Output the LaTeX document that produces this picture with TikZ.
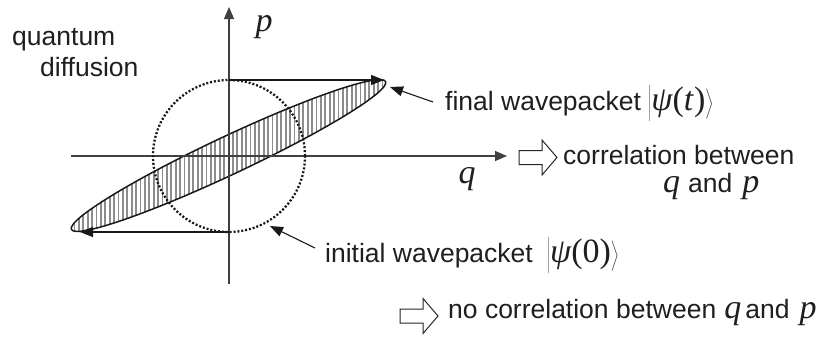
\documentclass[tikz,border=0pt]{standalone}
\usepackage[no-math]{fontspec}
\setmainfont{Liberation Sans}
\newfontfamily\tnr{Liberation Serif}
\usetikzlibrary{arrows.meta}
\newcommand\symfont{\fontsize{34}{40}\selectfont\tnr}
\newcommand\qv{{\symfont\itshape q}}
\newcommand\pv{{\symfont\itshape p}}
\newcommand\myket[1]{$\left|\mbox{\symfont #1}\right\rangle$}
\tikzset{
  axisline/.style={line width=1.1pt, draw=black!75, -{Triangle[length=12pt,width=10pt]}},
  pointer/.style={line width=1.1pt, draw=black!90, -{Triangle[length=13pt,width=10pt]}},
  lbl/.style={anchor=base west, inner sep=0pt, font=\fontsize{26.5}{30}\selectfont, text=black!88},
  sym/.style={anchor=base, inner sep=0pt, font=\symfont\itshape, text=black!88},
  blockarrow/.style={draw=black!85, line width=1pt, fill=white, line join=miter},
  hatch/.style={draw=black!45, line width=1.8pt},
  packetline/.style={draw=black!90, line width=1.5pt},
  dotcircle/.style={draw=black!90, line width=2.3pt, dash pattern=on 2pt off 1.9pt},
}
\begin{document}
\begin{tikzpicture}[x=1pt,y=-1pt]
\useasboundingbox[fill=white] (0,0) rectangle (838,338);
% coordinates
\coordinate (O) at (229,156);
\coordinate (ptop) at (229,7);
\coordinate (pbot) at (229,284);
\coordinate (qleft) at (71,156);
\coordinate (qright) at (507,156);
\coordinate (ctop) at (229,80);
\coordinate (cbot) at (229,232);
\coordinate (etr) at (384,80);
\coordinate (ebl) at (80,232);
% hatched ellipse
\begin{scope}
  \clip[shift={(228.5,155.5)},rotate=25.2] (0,0) ellipse [x radius=173.6pt,y radius=19pt];
  \foreach \x in {70,74.4,...,392} \draw[hatch] (\x,60) -- (\x,250);
\end{scope}
\draw[packetline,shift={(228.5,155.5)},rotate=25.2] (0,0) ellipse [x radius=173.6pt,y radius=19pt];
% axes
\draw[axisline] (pbot) -- (ptop);
\draw[axisline] (qleft) -- (qright);
% dotted circle
\draw[dotcircle] (O) circle [radius=76pt];
% spreading arrows
\draw[pointer] (ctop) -- (etr);
\draw[pointer] (cbot) -- (ebl);
% axis labels
\node[sym] (plabel) at (264,31) {p};
\node[sym] (qlabel) at (467,183) {q};
% quantum diffusion
\node[lbl] (qd1) at (12,45) {quantum};
\node[lbl] (qd2) at (40,76) {diffusion};
% final wavepacket
\node[lbl] (final) at (445,110) {final wavepacket\hspace{7pt}\myket{\itshape ψ\upshape(\itshape t\/\upshape)}};
\coordinate (fstart) at (433,102);
\coordinate (fend) at (390,87);
\draw[pointer] (fstart) -- (fend);
% initial wavepacket
\node[lbl] (initial) at (325,262) {initial wavepacket\hspace{14pt}\myket{\itshape ψ\upshape(0)}};
\coordinate (istart) at (315,248);
\coordinate (iend) at (270,226);
\draw[pointer] (istart) -- (iend);
% block arrows
\draw[blockarrow] (519,150.5) -- (542,150.5) -- (542,140) -- (557,157.5) -- (542,175) -- (542,164.5) -- (519,164.5) -- cycle;
\draw[blockarrow] (400,309) -- (423,309) -- (423,298.5) -- (438,316) -- (423,333.5) -- (423,323) -- (400,323) -- cycle;
% correlation texts
\node[lbl] (corr1) at (563,164) {correlation between};
\node[lbl] (corr2) at (663,192) {\qv\hspace{8pt}and\hspace{10pt}\pv};
\node[lbl] (nocorr) at (448,318) {no correlation between\hspace{8pt}\qv\hspace{4pt}and\hspace{10pt}\pv};
\end{tikzpicture}
\end{document}
